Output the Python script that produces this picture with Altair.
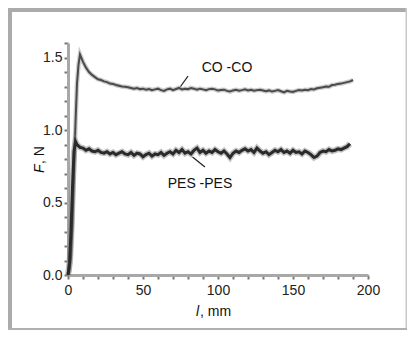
import altair as alt
import pandas as pd

# CO-CO curve
co_x = [0, 1, 2, 3, 4, 5, 6, 7, 8] + list(range(10, 192, 2))
co_y = [0, 0.03, 0.12, 0.35, 0.7, 1.05, 1.32, 1.45, 1.52,
        1.47, 1.43, 1.40, 1.38, 1.365, 1.35, 1.345, 1.335, 1.33, 1.32,
        1.318, 1.31, 1.305, 1.30, 1.298, 1.295, 1.29, 1.285, 1.29, 1.282,
        1.285, 1.278, 1.283, 1.275, 1.28, 1.285, 1.275, 1.27, 1.28, 1.285,
        1.275, 1.283, 1.29, 1.28, 1.285, 1.282, 1.29, 1.285, 1.278, 1.285,
        1.28, 1.275, 1.282, 1.285, 1.28, 1.272, 1.276, 1.278, 1.27, 1.265,
        1.273, 1.277, 1.271, 1.275, 1.28, 1.273, 1.277, 1.271, 1.275, 1.278,
        1.273, 1.267, 1.273, 1.265, 1.27, 1.275, 1.267, 1.26, 1.27, 1.265,
        1.263, 1.27, 1.275, 1.272, 1.278, 1.275, 1.282, 1.28, 1.288, 1.292,
        1.295, 1.30, 1.298, 1.31, 1.312, 1.318, 1.32, 1.325, 1.33, 1.335, 1.345]

# PES-PES curve
pes_x = [0, 1, 2, 3, 4, 5] + list(range(6, 190, 2))
pes_y = [0, 0.08, 0.3, 0.6, 0.85, 0.92,
         0.90, 0.88, 0.875, 0.86, 0.87, 0.855, 0.85, 0.86, 0.845, 0.84,
         0.85, 0.835, 0.845, 0.83, 0.84, 0.85, 0.835, 0.83, 0.845, 0.825,
         0.84, 0.835, 0.815, 0.83, 0.84, 0.82, 0.835, 0.83, 0.845, 0.825,
         0.84, 0.85, 0.835, 0.86, 0.845, 0.865, 0.84, 0.85, 0.835, 0.86,
         0.875, 0.845, 0.86, 0.84, 0.855, 0.845, 0.865, 0.85, 0.84, 0.855,
         0.835, 0.81, 0.84, 0.855, 0.845, 0.86, 0.87, 0.855, 0.865, 0.845,
         0.875, 0.855, 0.84, 0.85, 0.83, 0.845, 0.86, 0.85, 0.865, 0.845,
         0.855, 0.84, 0.86, 0.845, 0.85, 0.835, 0.855, 0.845, 0.83, 0.81,
         0.82, 0.845, 0.855, 0.85, 0.865, 0.855, 0.86, 0.87, 0.865, 0.875,
         0.885, 0.905]

# annotations
label_text = ["CO -CO", "PES -PES"]
label_x = [106, 88]
label_y = [1.43, 0.63]
leader_x = [80, 83]
leader_y = [1.372, 0.814]
leader_x2 = [75, 91.3]
leader_y2 = [1.30, 0.745]

x_ticks = list(range(0, 201, 10))
y_ticks = [round(i * 0.1, 1) for i in range(0, 17)]

FONT = "Liberation Sans, Arial, sans-serif"

co = pd.DataFrame({"x": co_x, "y": co_y})
pes = pd.DataFrame({"x": pes_x, "y": pes_y})
labels = pd.DataFrame({"t": label_text, "x": label_x, "y": label_y})
leaders = pd.DataFrame({"x": leader_x, "y": leader_y, "x2": leader_x2, "y2": leader_y2})
one = pd.DataFrame({"a": [0]})

xs = alt.Scale(domain=[0, 200], nice=False)
ys = alt.Scale(domain=[0, 1.6], nice=False)

xaxis = alt.Axis(values=x_ticks, labelExpr="datum.value % 50 == 0 ? datum.label : ''",
                 title=None, grid=False, domainColor="#a8a8a8", domainWidth=3,
                 tickColor="#777", tickWidth=2, tickSize=4, labelPadding=4,
                 labelOverlap=False,
                 labelFont=FONT, labelFontSize=14, labelColor="#222", labelFlush=False)
yaxis = alt.Axis(values=y_ticks, format=".1f",
                 labelExpr="round(datum.value*10) % 5 == 0 ? datum.label : ''",
                 title=None, grid=False, domainColor="#a8a8a8", domainWidth=3,
                 tickColor="#777", tickWidth=2, tickSize=4, labelPadding=2,
                 labelOverlap=False,
                 labelFont=FONT, labelFontSize=14, labelColor="#222", labelFlush=False)

X = alt.X("x:Q", scale=xs, axis=xaxis)
Y = alt.Y("y:Q", scale=ys, axis=yaxis)

co_blur = alt.Chart(co).mark_line(color="#999", strokeWidth=4.5, opacity=0.5).encode(x=X, y=Y)
co_line = alt.Chart(co).mark_line(color="#4a4a4a", strokeWidth=2).encode(x=X, y=Y)
pes_blur = alt.Chart(pes).mark_line(color="#777", strokeWidth=6, opacity=0.45).encode(x=X, y=Y)
pes_line = alt.Chart(pes).mark_line(color="#2a2a2a", strokeWidth=3).encode(x=X, y=Y)

lead = alt.Chart(leaders).mark_rule(color="#222", strokeWidth=1.2).encode(
    x=X, y=Y, x2="x2:Q", y2="y2:Q")
txt = alt.Chart(labels).mark_text(font=FONT, fontSize=14, color="#111").encode(
    x=X, y=Y, text="t:N")

# axis titles
yt1 = alt.Chart(one).mark_text(font=FONT, fontSize=14, fontStyle="italic", angle=270,
                               align="left", baseline="middle", color="#111").encode(
    x=alt.value(-28), y=alt.value(130), text=alt.value("F"))
yt2 = alt.Chart(one).mark_text(font=FONT, fontSize=14, angle=270,
                               align="left", baseline="middle", color="#111").encode(
    x=alt.value(-28), y=alt.value(121), text=alt.value(", N"))
xt1 = alt.Chart(one).mark_text(font=FONT, fontSize=14, fontStyle="italic",
                               align="left", baseline="middle", color="#111").encode(
    x=alt.value(128), y=alt.value(269), text=alt.value("l"))
xt2 = alt.Chart(one).mark_text(font=FONT, fontSize=14,
                               align="left", baseline="middle", color="#111").encode(
    x=alt.value(132), y=alt.value(269), text=alt.value(", mm"))

# frame
fl = alt.Chart(one).mark_rect(color="#ababab").encode(
    x=alt.value(-60), x2=alt.value(-56), y=alt.value(-35), y2=alt.value(287))
ft = alt.Chart(one).mark_rect(color="#ababab").encode(
    x=alt.value(-60), x2=alt.value(339), y=alt.value(-35), y2=alt.value(-31))
fr = alt.Chart(one).mark_rect(color="#c8c8c8").encode(
    x=alt.value(337.5), x2=alt.value(339), y=alt.value(-35), y2=alt.value(287))
fb = alt.Chart(one).mark_rect(color="#b0b0b0").encode(
    x=alt.value(-60), x2=alt.value(339), y=alt.value(285), y2=alt.value(287))

chart = alt.layer(co_blur, co_line, pes_blur, pes_line, lead, txt,
                  fl, ft, fr, fb, yt1, yt2, xt1, xt2).properties(
    width=300, height=232,
    padding={"left": 60, "top": 35, "right": 39, "bottom": 55},
    autosize=alt.AutoSizeParams(type="none"),
    background="white",
).configure_view(stroke=None)

chart.save("out.html", embed_options={"renderer": "svg", "actions": False})
